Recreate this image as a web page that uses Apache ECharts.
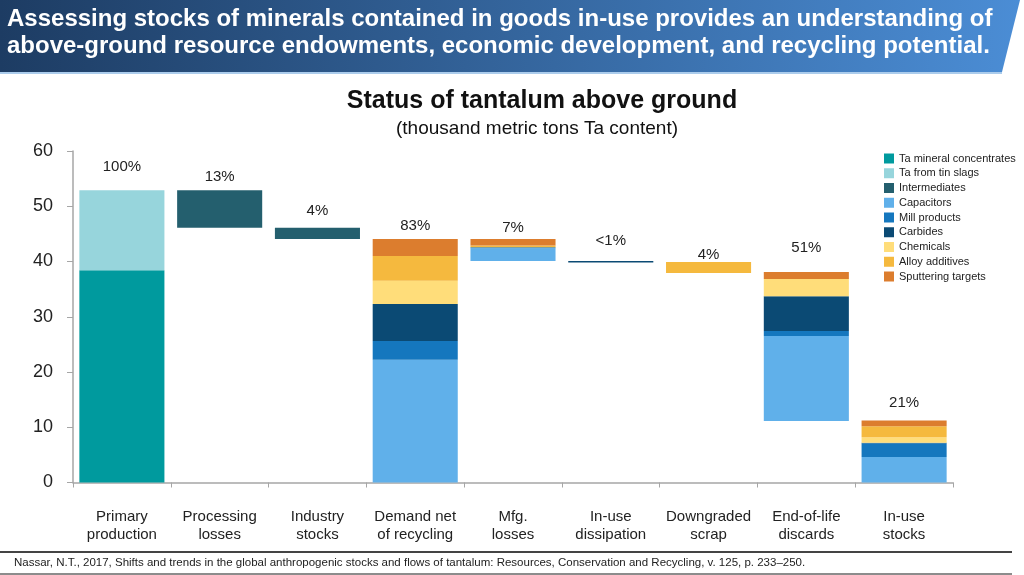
<!DOCTYPE html>
<html>
<head>
<meta charset="utf-8">
<script src="https://cdn.jsdelivr.net/npm/echarts@6/dist/echarts.min.js"></script>
<style>
html,body{margin:0;padding:0;background:#fff;}
#chart{width:1024px;height:575px;}
</style>
</head>
<body>
<div id="chart"></div>
<script>
// ---- data ----
var categories = ['Primary\nproduction', 'Processing\nlosses', 'Industry\nstocks', 'Demand net\nof recycling', 'Mfg.\nlosses', 'In-use\ndissipation', 'Downgraded\nscrap', 'End-of-life\ndiscards', 'In-use\nstocks'];
var yTicks = [0, 10, 20, 30, 40, 50, 60];
// invisible waterfall offset (thousand metric tons)
var offsetBase     = [0, 46.1, 44.05, 0, 40.1, 39.8, 37.9, 11.15, 0];
var concentrates   = [38.4, '-', '-', '-', '-', '-', '-', '-', '-'];
var tinSlags       = [14.5, '-', '-', '-', '-', '-', '-', '-', '-'];
var intermediates  = ['-', 6.8, 2.05, '-', '-', '-', '-', '-', '-'];
var capacitors     = ['-', '-', '-', 22.2, 2.3, '-', '-', 15.35, 4.6];
var millProducts   = ['-', '-', '-', 3.4, 0.2, '-', '-', 0.9, 2.5];
var carbides       = ['-', '-', '-', 6.7, '-', 0.3, '-', 6.3, 0.1];
var chemicals      = ['-', '-', '-', 4.2, '-', '-', '-', 3.15, 1.0];
var alloyAdditives = ['-', '-', '-', 4.5, 0.3, '-', 2.0, '-', 2.0];
var sputtering     = ['-', '-', '-', 3.05, 1.15, '-', '-', 1.25, 1.0];
var pctLabels      = ['100%', '13%', '4%', '83%', '7%', '<1%', '4%', '51%', '21%'];

// ---- styles ----
var labelLift = [16, 6, 9, 6, 4, 13, 0, 17, 10];
var seriesDefs = [
  ['Ta mineral concentrates', concentrates, '#009a9e'],
  ['Ta from tin slags', tinSlags, '#97d5dc'],
  ['Intermediates', intermediates, '#245f6e'],
  ['Capacitors', capacitors, '#60b0ea'],
  ['Mill products', millProducts, '#1577be'],
  ['Carbides', carbides, '#0b4a74'],
  ['Chemicals', chemicals, '#ffdd7a'],
  ['Alloy additives', alloyAdditives, '#f5b93e'],
  ['Sputtering targets', sputtering, '#dc7d2e']
];
var FONT = '"Liberation Sans", Arial, sans-serif';

var series = [{
  name: 'base', type: 'bar', stack: 'w', silent: true,
  data: offsetBase, itemStyle: { color: 'transparent' }, barCategoryGap: '13%'
}];
seriesDefs.forEach(function (d) {
  series.push({
    name: d[0], type: 'bar', stack: 'w',
    data: d[1],
    itemStyle: { color: d[2] },
    emphasis: { disabled: true },
    barCategoryGap: '13%'
  });
});
series.push({
  name: 'pct', type: 'bar', stack: 'w', silent: true,
  data: pctLabels.map(function (p, i) {
    return { value: 0, label: { distance: labelLift[i] } };
  }),
  itemStyle: { color: 'transparent' },
  label: {
    show: true, position: 'top', fontSize: 15, color: '#222', fontFamily: FONT,
    formatter: function (p) { return pctLabels[p.dataIndex]; }
  }
});

var chart = echarts.init(document.getElementById('chart'), null, { renderer: 'canvas' });
chart.setOption({
  animation: false,
  backgroundColor: '#fff',
  textStyle: { fontFamily: FONT },
  grid: { left: 73, right: 71, top: 151, bottom: 92.5, containLabel: false },
  legend: {
    data: seriesDefs.map(function (d) { return d[0]; }),
    orient: 'vertical', left: 884, top: 153, padding: 0,
    itemWidth: 10, itemHeight: 10, itemGap: 3.75, itemTextGap: 2,
    icon: 'rect', selectedMode: false,
    textStyle: { fontSize: 11, color: '#222', fontFamily: FONT, lineHeight: 10 }
  },
  xAxis: {
    type: 'category', data: categories,
    axisLine: { lineStyle: { color: '#a6a6a6', width: 1.5 } },
    axisTick: { show: true, length: 5, lineStyle: { color: '#a6a6a6' } },
    axisLabel: { fontSize: 15, lineHeight: 18, color: '#222', margin: 25, interval: 0 }
  },
  yAxis: {
    type: 'value', min: yTicks[0], max: yTicks[yTicks.length - 1], interval: 10,
    axisLine: { show: true, lineStyle: { color: '#a6a6a6', width: 1.5 } },
    axisTick: { show: true, length: 6, lineStyle: { color: '#a6a6a6' } },
    splitLine: { show: false },
    axisLabel: { fontSize: 18, color: '#222', margin: 20 }
  },
  graphic: [
    {
      type: 'polygon', silent: true, z: 0,
      shape: { points: [[0, 0], [1020, 0], [1002, 72], [0, 72]] },
      style: {
        fill: new echarts.graphic.LinearGradient(0, 0, 1, 0, [
          { offset: 0, color: '#1d3c63' },
          { offset: 1, color: '#4b8dd5' }
        ])
      }
    },
    { type: 'line', silent: true, shape: { x1: 0, y1: 73, x2: 1002, y2: 73 }, style: { stroke: '#8fbbe6', lineWidth: 1.5 } },
    { type: 'text', silent: true, x: 7, y: 19, style: { text: 'Assessing stocks of minerals contained in goods in-use provides an understanding of', fill: '#fff', font: 'bold 24px "Liberation Sans", Arial', verticalAlign: 'middle' } },
    { type: 'text', silent: true, x: 7, y: 46, style: { text: 'above-ground resource endowments, economic development, and recycling potential.', fill: '#fff', font: 'bold 24px "Liberation Sans", Arial', verticalAlign: 'middle' } },
    { type: 'text', silent: true, x: 542, y: 101, style: { text: 'Status of tantalum above ground', fill: '#111', font: 'bold 25px "Liberation Sans", Arial', align: 'center', verticalAlign: 'middle' } },
    { type: 'text', silent: true, x: 537, y: 129, style: { text: '(thousand metric tons Ta content)', fill: '#111', font: '19px "Liberation Sans", Arial', align: 'center', verticalAlign: 'middle' } },
    { type: 'line', silent: true, shape: { x1: 0, y1: 552, x2: 1012, y2: 552 }, style: { stroke: '#444', lineWidth: 2 } },
    { type: 'text', silent: true, x: 14, y: 563, style: { text: 'Nassar, N.T., 2017, Shifts and trends in the global anthropogenic stocks and flows of tantalum: Resources, Conservation and Recycling, v. 125, p. 233\u2013250.', fill: '#222', font: '11.5px "Liberation Sans", Arial', verticalAlign: 'middle' } },
    { type: 'line', silent: true, shape: { x1: 0, y1: 574, x2: 1012, y2: 574 }, style: { stroke: '#666', lineWidth: 1.5 } }
  ],
  series: series
});
</script>
</body>
</html>
